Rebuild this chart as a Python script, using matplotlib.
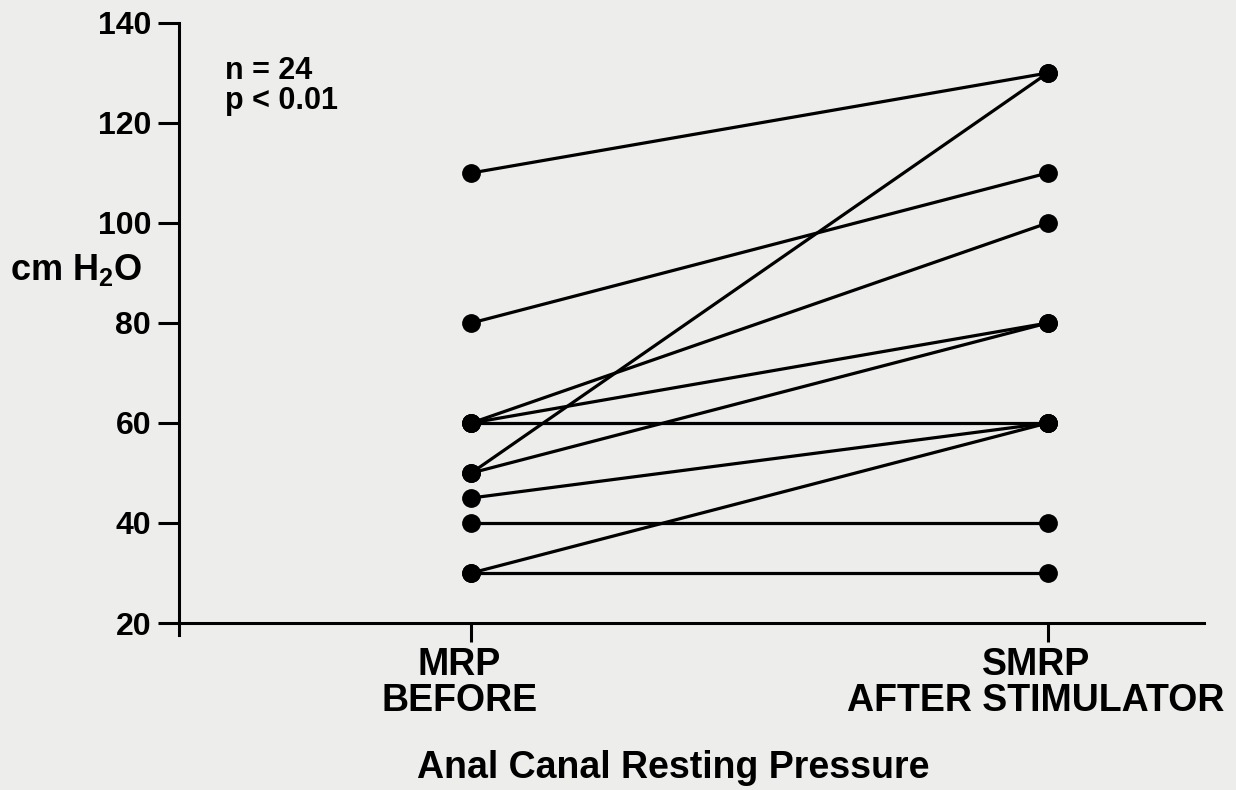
import matplotlib
matplotlib.use("Agg")
import matplotlib.pyplot as plt
from matplotlib.transforms import ScaledTranslation

plt.rcParams['font.family'] = ['Liberation Sans', 'DejaVu Sans']
plt.rcParams['mathtext.fontset'] = 'custom'
plt.rcParams['mathtext.rm'] = 'Liberation Sans:bold'
plt.rcParams['mathtext.default'] = 'rm'

## Data
categories = ["MRP\nBEFORE", "SMRP\nAFTER STIMULATOR"]
before = [110, 80, 60, 60, 60, 50, 50, 45, 40, 30, 30]
after = [130, 110, 100, 80, 60, 130, 80, 60, 40, 60, 30]
yticks = [20, 40, 60, 80, 100, 120, 140]

bg = '#ededeb'
fig = plt.figure(figsize=(12.36, 7.9), dpi=100, facecolor=bg)
ax = fig.add_axes([0.1448, 0.1962, 0.8293, 0.7747])
ax.set_facecolor(bg)

for b, a in zip(before, after):
    ax.plot([0, 1], [b, a], color='black', lw=2.3, marker='o', ms=12.5,
            solid_capstyle='round', clip_on=False, zorder=3)

ax.set_xlim(-0.507, 1.271)
ax.set_ylim(17.6, 140)
ax.spines['right'].set_visible(False)
ax.spines['top'].set_visible(False)
ax.spines['bottom'].set_position(('data', 20))
ax.spines['left'].set_bounds(17.6, 140)
for s in ['left', 'bottom']:
    ax.spines[s].set_linewidth(2.2)

ax.set_yticks(yticks)
ax.set_yticklabels([str(t) for t in yticks], fontsize=23, fontweight='bold')
ax.set_xticks([0, 1])
ax.set_xticklabels(categories, fontsize=27, fontweight='bold', linespacing=1.0)
ax.tick_params(axis='y', direction='out', length=15, width=2.2, pad=5)
ax.tick_params(axis='x', direction='out', length=14, width=2.2, pad=3)
# labels sit slightly left of the ticks in the original
shift = ScaledTranslation(-12 / 100, 0, fig.dpi_scale_trans)
for lab in ax.get_xticklabels():
    lab.set_transform(lab.get_transform() + shift)

ax.text(-0.428, 133.4, "n = 24\np < 0.01", fontsize=22, fontweight='bold',
        va='top', ha='left', linespacing=1.0)
fig.text(0.008, 0.658, r"cm H$_2$O", fontsize=26, fontweight='bold',
         va='center', ha='left')
fig.text(0.545, 0.028, "Anal Canal Resting Pressure", fontsize=27,
         fontweight='bold', ha='center', va='center')

fig.savefig("out.png", dpi=100, facecolor=bg)
